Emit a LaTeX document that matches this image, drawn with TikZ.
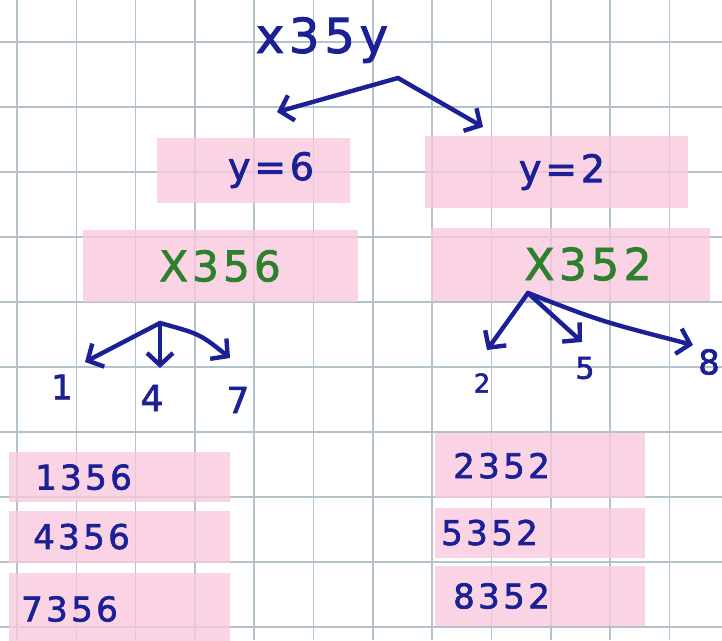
\documentclass[tikz,border=0pt]{standalone}
\usepackage{fontspec}
\usetikzlibrary{arrows.meta,positioning}
\newfontfamily\hand[LetterSpace=10,FakeBold=2]{DejaVu Sans}
\newcommand{\handsize}[1]{\fontsize{#1}{#1}\selectfont}
\definecolor{inkblue}{RGB}{28,32,150}
\definecolor{inkgreen}{RGB}{46,128,46}
\definecolor{notepink}{RGB}{249,200,221}
\definecolor{gridgray}{RGB}{180,194,204}

\begin{document}
\begin{tikzpicture}[
  x=1pt,y=-1pt,
  node distance=8pt,
  gridline/.style={gridgray,line width=1.6pt},
  cell/.style={fill=notepink,fill opacity=.78,text opacity=1,inner ysep=0pt,text=inkblue,font=\hand\handsize{38}},
  row/.style={cell,align=left,font=\hand\handsize{34}},
  num/.style={text=inkblue,inner sep=0pt,font=\hand\handsize{34}},
  arr/.style={-{Straight Barb[length=12pt,width=26pt,line width=4.4pt]},line width=4.4pt,inkblue,line cap=round,line join=round}
]
\fill[white] (0,0) rectangle (722,640);
\useasboundingbox (0,0) rectangle (722,640);
\foreach \i in {0,...,11}
  \draw[gridline] ({17+59.3*\i},0) -- ({17+59.3*\i},640);
\foreach \j in {0,...,9}
  \draw[gridline] (0,{42+65*\j}) -- (722,{42+65*\j});

\node[num,font=\hand\handsize{48}] (word) at (322,40) {x35y};
\node[cell,minimum width=193pt,minimum height=65pt] (ysix) at (253,170) {\hspace*{36pt}y=6};
\node[cell,minimum width=263pt,minimum height=72pt] (ytwo) at (556,172) {\hspace*{12pt}y=2};
\node[cell,minimum width=275pt,minimum height=72pt,text=inkgreen,font=\hand\handsize{42}] (xsix) at (220,266) {X356};
\node[cell,minimum width=279pt,minimum height=73pt,text=inkgreen,font=\hand\handsize{44}] (xtwo) at (570,264) {\hspace*{36pt}X352};

\node[num,font=\hand\handsize{34}] (one) at (62,387) {1};
\node[num,font=\hand\handsize{36}] (four) at (152,398) {4};
\node[num,font=\hand\handsize{36}] (seven) at (238,400) {7};
\node[num,font=\hand\handsize{26}] (two) at (482,383) {2};
\node[num,font=\hand\handsize{30}] (five) at (585,368) {5};
\node[num,font=\hand\handsize{34}] (eight) at (709,362) {8};

\node[row,anchor=north west,minimum height=50pt,inner xsep=26pt,text width=169pt] (lone) at (9,452) {1356};
\node[row,below=8pt of lone,minimum height=52pt,inner xsep=24pt,text width=173pt] (lfour) {4356};
\node[row,below=10pt of lfour,minimum height=72pt,inner xsep=12pt,text width=197pt] (lseven) {7356};
\node[row,anchor=north west,minimum height=65pt,inner xsep=18pt,text width=174pt] (rtwo) at (435,433) {2352};
\node[row,below=9pt of rtwo,minimum height=50pt,inner xsep=6pt,text width=198pt] (rfive) {5352};
\node[row,below=8pt of rfive,minimum height=60pt,inner xsep=18pt,text width=174pt] (reight) {8352};

\coordinate (wordfork) at (398,78);
\coordinate (sixtip) at (277,112);
\coordinate (twotip) at (483,127);
\coordinate (sixfork) at (160,323);
\coordinate (onetip) at (85,362);
\coordinate (fourtip) at (160,368);
\coordinate (seventip) at (230,358);
\coordinate (twofork) at (528,293);
\coordinate (twoarrow) at (487,350);
\coordinate (fivetip) at (582,342);
\coordinate (eighttip) at (693,345);

\draw[arr] (wordfork) -- (sixtip);
\draw[arr] (wordfork) -- (twotip);
\draw[arr] (sixfork) -- (onetip);
\draw[arr] (sixfork) -- (fourtip);
\draw[arr] (sixfork) .. controls (200,334) .. (seventip);
\draw[arr] (twofork) -- (twoarrow);
\draw[arr] (twofork) -- (fivetip);
\draw[arr] (twofork) .. controls (600,321) .. (eighttip);
\end{tikzpicture}
\end{document}
